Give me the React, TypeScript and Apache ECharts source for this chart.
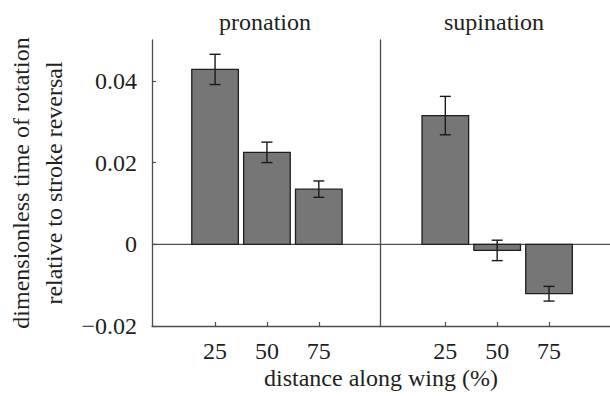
import React, { useEffect, useRef } from "react";
import * as echarts from "echarts";

const positions = [25, 50, 75];
const pronationMean = [0.0428, 0.0225, 0.0135];
const pronationErr = [0.0037, 0.0025, 0.002];
const supinationMean = [0.0315, -0.0015, -0.0121];
const supinationErr = [0.0047, 0.0025, 0.0018];
const yTicks = [-0.02, 0, 0.02, 0.04];
const xTicks = [25, 50, 75];
const panelTitles = ["pronation", "supination"];
const yName = "dimensionless time of rotation\nrelative to stroke reversal";
const xName = "distance along wing (%)";

const FONT = "Liberation Serif";
const FS = 24;
const TXT = "#231f20";
const AX = "#4d4d4d";

const xRanges = [
  [-5.4, 104.5],
  [-6.5, 104.4],
];

function fmtY(v: number) {
  if (v === 0) return "0";
  const s = String(Math.round(Math.abs(v) * 1000) / 1000);
  return v < 0 ? "\u2212" + s : s;
}

export default function App() {
  const ref = useRef<HTMLDivElement>(null);
  useEffect(() => {
    if (!ref.current) return;
    const chart = echarts.init(ref.current, null, { renderer: "svg" });
    const grids = [
      { left: 152, top: 40, width: 228, height: 286 },
      { left: 380, top: 40, width: 230, height: 286 },
    ];
    const means = [pronationMean, supinationMean];
    const errs = [pronationErr, supinationErr];

    const xAxis = grids.map((_, i) => ({
      type: "value",
      gridIndex: i,
      min: xRanges[i][0],
      max: xRanges[i][1],
      position: "bottom",
      axisLine: { show: true, onZero: false, lineStyle: { color: AX, width: 1.3 } },
      axisTick: { show: true, inside: true, length: 4, customValues: xTicks, lineStyle: { color: AX, width: 1.2 } },
      axisLabel: { show: true, customValues: xTicks, margin: 13, color: TXT, fontFamily: FONT, fontSize: FS },
      splitLine: { show: false },
    }));
    const yAxis = grids.map((_, i) => ({
      type: "value",
      gridIndex: i,
      min: -0.02,
      max: 0.05,
      position: "left",
      axisLine: { show: true, onZero: false, lineStyle: { color: AX, width: 1.3 } },
      axisTick: { show: i === 0, inside: true, length: 4, customValues: yTicks, lineStyle: { color: AX, width: 1.2 } },
      axisLabel: {
        show: i === 0,
        customValues: yTicks,
        margin: 15,
        color: TXT,
        fontFamily: FONT,
        fontSize: FS,
        formatter: (v: number) => fmtY(v),
      },
      splitLine: { show: false },
    }));

    const series: any[] = [];
    grids.forEach((_, i) => {
      series.push({
        type: "line",
        xAxisIndex: i,
        yAxisIndex: i,
        data: [
          [xRanges[i][0], 0],
          [xRanges[i][1], 0],
        ],
        symbol: "none",
        silent: true,
        lineStyle: { color: AX, width: 1.3 },
        z: 1,
      });
      series.push({
        type: "custom",
        xAxisIndex: i,
        yAxisIndex: i,
        data: positions.map((p, k) => [p, means[i][k]]),
        encode: { x: 0, y: 1 },
        z: 2,
        renderItem: (params: any, api: any) => {
          const x = api.value(0);
          const v = api.value(1);
          const p1 = api.coord([x, v]);
          const p0 = api.coord([x, 0]);
          const hw = 23.3;
          return {
            type: "rect",
            shape: {
              x: p1[0] - hw,
              y: Math.min(p0[1], p1[1]),
              width: 2 * hw,
              height: Math.abs(p1[1] - p0[1]),
            },
            style: { fill: "#767676", stroke: "#1e1e1e", lineWidth: 1.3 },
          };
        },
      });
      series.push({
        type: "custom",
        xAxisIndex: i,
        yAxisIndex: i,
        data: positions.map((p, k) => [p, means[i][k], errs[i][k]]),
        encode: { x: 0, y: 1 },
        z: 3,
        renderItem: (params: any, api: any) => {
          const x = api.value(0);
          const m = api.value(1);
          const e = api.value(2);
          const top = api.coord([x, m + e]);
          const bot = api.coord([x, m - e]);
          const cw = 5.5;
          const st = { stroke: "#1a1a1a", lineWidth: 1.4 };
          return {
            type: "group",
            children: [
              { type: "line", shape: { x1: top[0], y1: top[1], x2: bot[0], y2: bot[1] }, style: st },
              { type: "line", shape: { x1: top[0] - cw, y1: top[1], x2: top[0] + cw, y2: top[1] }, style: st },
              { type: "line", shape: { x1: bot[0] - cw, y1: bot[1], x2: bot[0] + cw, y2: bot[1] }, style: st },
            ],
          };
        },
      });
    });

    const txt = (text: string) => ({
      text,
      textAlign: "center",
      textVerticalAlign: "middle",
      fill: TXT,
      fontFamily: FONT,
      fontSize: FS,
    });

    chart.setOption({
      animation: false,
      backgroundColor: "#ffffff",
      grid: grids,
      xAxis,
      yAxis,
      series,
      graphic: [
        { type: "text", x: 265, y: 22, style: txt(panelTitles[0]) },
        { type: "text", x: 494, y: 22, style: txt(panelTitles[1]) },
        { type: "text", x: 381, y: 378, style: txt(xName) },
        {
          type: "text",
          x: 37,
          y: 183,
          rotation: Math.PI / 2,
          style: { ...txt(yName), lineHeight: 33 },
        },
      ],
    });
    return () => chart.dispose();
  }, []);
  return (
    <div
      ref={ref}
      style={{ position: "fixed", left: 0, top: 0, width: 610, height: 396, background: "#fff" }}
    />
  );
}
